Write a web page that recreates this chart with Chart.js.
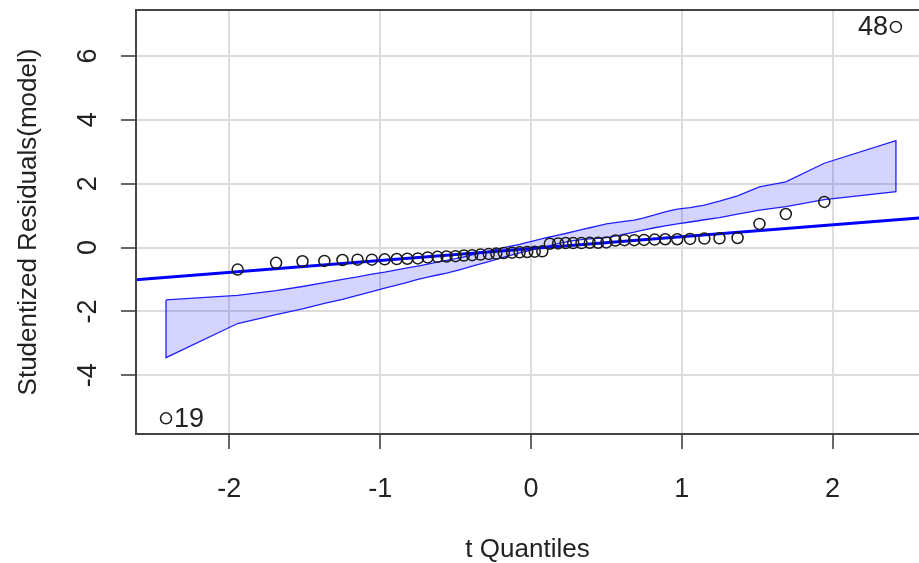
<!DOCTYPE html>
<html>
<head>
<meta charset="utf-8">
<title>qqPlot</title>
<script src="https://cdn.jsdelivr.net/npm/chart.js@4.4.1/dist/chart.umd.min.js"></script>
<style>
    html, body { margin: 0; padding: 0; background: #fff; overflow: hidden; }
    #wrap { width: 926px; height: 563px; }
</style>
</head>
<body>
<div id="wrap"><canvas id="qq" width="926" height="563"></canvas></div>
<script>
// t 분위수 (x축)
const tQuantiles = [-2.42, -1.945, -1.69, -1.515, -1.37, -1.25, -1.15, -1.055, -0.97, -0.89,
    -0.82, -0.75, -0.685, -0.62, -0.56, -0.50, -0.445, -0.39, -0.335, -0.28,
    -0.23, -0.18, -0.125, -0.075, -0.025, 0.025, 0.075, 0.125, 0.18, 0.23,
    0.28, 0.335, 0.39, 0.445, 0.50, 0.56, 0.62, 0.685, 0.75, 0.82,
    0.89, 0.97, 1.055, 1.15, 1.25, 1.37, 1.515, 1.69, 1.945, 2.42];

// 스튜던트화 잔차 (정렬됨)
const residuals = [-5.35, -0.69, -0.48, -0.43, -0.42, -0.39, -0.38, -0.38, -0.37, -0.36,
    -0.35, -0.34, -0.31, -0.29, -0.28, -0.27, -0.25, -0.24, -0.22, -0.20,
    -0.19, -0.17, -0.16, -0.15, -0.14, -0.13, -0.12, 0.12, 0.13, 0.14,
    0.14, 0.14, 0.15, 0.15, 0.16, 0.22, 0.23, 0.23, 0.24, 0.25,
    0.26, 0.26, 0.27, 0.28, 0.29, 0.30, 0.74, 1.05, 1.43, 6.91];

// 신뢰 구간 위/아래
const envUpper = [-1.64, -1.50, -1.35, -1.22, -1.10, -1.00, -0.92, -0.83, -0.77, -0.70,
    -0.64, -0.58, -0.52, -0.46, -0.40, -0.35, -0.29, -0.23, -0.18, -0.12,
    -0.06, 0.00, 0.05, 0.10, 0.16, 0.22, 0.28, 0.33, 0.39, 0.44,
    0.50, 0.56, 0.62, 0.68, 0.74, 0.78, 0.82, 0.86, 0.93, 1.02,
    1.12, 1.20, 1.25, 1.33, 1.45, 1.62, 1.90, 2.06, 2.64, 3.35];
const envLower = [-3.45, -2.38, -2.10, -1.92, -1.75, -1.62, -1.50, -1.38, -1.27, -1.18,
    -1.09, -1.00, -0.93, -0.86, -0.80, -0.73, -0.66, -0.58, -0.51, -0.44,
    -0.37, -0.30, -0.23, -0.17, -0.11, -0.05, 0.01, 0.06, 0.12, 0.17,
    0.22, 0.25, 0.27, 0.29, 0.31, 0.36, 0.42, 0.48, 0.55, 0.62,
    0.68, 0.74, 0.80, 0.87, 0.94, 1.05, 1.17, 1.28, 1.50, 1.75];

// 기준선 양 끝
const refX = [-2.62, 2.62];
const refY = [-1.01, 0.94];

// 눈금
const xTicks = [-2, -1, 0, 1, 2];
const yTicks = [-4, -2, 0, 2, 4, 6];

// 이상치 번호
const outlierIdx = [0, 49];
const outlierText = ['19', '48'];

const FONT = "'Liberation Sans', Arial, sans-serif";

// 점 데이터
const pointData = tQuantiles.map((t, i) => ({x: t, y: residuals[i]}));
// 위 경계 → 아래 경계(역순) → 시작점으로 닫힌 다각형
const bandData = tQuantiles.map((t, i) => ({x: t, y: envUpper[i]}))
    .concat(tQuantiles.map((t, i) => ({x: t, y: envLower[i]})).reverse());
bandData.push({x: tQuantiles[0], y: envUpper[0]});
const refData = refX.map((x, i) => ({x: x, y: refY[i]}));

// 테두리 (오른쪽 변은 화면 밖)
const frameBox = {
    id: 'frameBox',
    afterDraw(chart) {
        const a = chart.chartArea;
        const ctx = chart.ctx;
        ctx.save();
        ctx.strokeStyle = '#444';
        ctx.lineWidth = 2;
        ctx.beginPath();
        ctx.moveTo(a.right + 2, a.top);
        ctx.lineTo(a.left, a.top);
        ctx.lineTo(a.left, a.bottom);
        ctx.lineTo(a.right + 2, a.bottom);
        ctx.stroke();
        ctx.restore();
    }
};

// 이상치 번호 표시
const outlierLabels = {
    id: 'outlierLabels',
    afterDatasetsDraw(chart) {
        const ctx = chart.ctx;
        const xs = chart.scales.x, ys = chart.scales.y;
        ctx.save();
        ctx.font = '27px ' + FONT;
        ctx.fillStyle = '#222';
        ctx.textBaseline = 'middle';
        outlierIdx.forEach(function (idx, k) {
            const px = xs.getPixelForValue(tQuantiles[idx]);
            const py = ys.getPixelForValue(residuals[idx]);
            if (px < (xs.left + xs.right) / 2) {
                ctx.textAlign = 'left';
                ctx.fillText(outlierText[k], px + 8, py + 1);
            } else {
                ctx.textAlign = 'right';
                ctx.fillText(outlierText[k], px - 8, py + 1);
            }
        });
        ctx.restore();
    }
};

// 축 여백 고정 (회전된 눈금 라벨 때문에 생기는 패딩 제거)
function noPad(scale) {
    scale.paddingTop = 0;
    scale.paddingBottom = 0;
    scale.paddingLeft = 0;
    scale.paddingRight = 0;
}

new Chart(document.getElementById('qq'), {
    type: 'line',
    data: {
        datasets: [
            {
                label: 'residuals',
                data: pointData,
                showLine: false,
                pointStyle: 'circle',
                pointRadius: 5.5,
                pointBorderWidth: 1.5,
                pointBorderColor: '#1a1a1a',
                pointBackgroundColor: 'rgba(0,0,0,0)',
                order: 0
            },
            {
                label: 'ref',
                data: refData,
                borderColor: '#0000ff',
                borderWidth: 3,
                pointRadius: 0,
                fill: false,
                order: 1
            },
            {
                label: 'envelope',
                data: bandData,
                borderColor: '#1f1fff',
                borderWidth: 1.3,
                backgroundColor: 'rgba(0,0,255,0.17)',
                pointRadius: 0,
                fill: 'shape',
                tension: 0,
                order: 2
            }
        ]
    },
    options: {
        responsive: false,
        animation: false,
        devicePixelRatio: 1,
        layout: {padding: {top: 10, right: 0, left: 0, bottom: 0}},
        plugins: {
            legend: {display: false},
            tooltip: {enabled: false}
        },
        scales: {
            x: {
                type: 'linear',
                min: -2.619,
                max: 2.573,
                afterFit: function (scale) {
                    scale.height = 129;
                    noPad(scale);
                },
                afterBuildTicks: function (scale) {
                    scale.ticks = xTicks.map(v => ({value: v}));
                },
                border: {display: false},
                grid: {
                    color: '#dcdcdc',
                    lineWidth: 2,
                    tickLength: 15,
                    tickColor: '#333',
                    tickWidth: 1.5
                },
                ticks: {
                    color: '#222',
                    font: {family: FONT, size: 27},
                    padding: 24,
                    maxRotation: 0
                },
                title: {
                    display: true,
                    text: 't Quantiles',
                    color: '#222',
                    font: {family: FONT, size: 26, lineHeight: 1.05},
                    padding: {top: 0, bottom: 0}
                }
            },
            y: {
                type: 'linear',
                min: -5.84,
                max: 7.44,
                afterFit: function (scale) {
                    scale.width = 136;
                    noPad(scale);
                },
                afterBuildTicks: function (scale) {
                    scale.ticks = yTicks.map(v => ({value: v}));
                },
                border: {display: false},
                grid: {
                    color: '#dcdcdc',
                    lineWidth: 2,
                    tickLength: 15,
                    tickColor: '#333',
                    tickWidth: 1.5
                },
                ticks: {
                    color: '#222',
                    font: {family: FONT, size: 27},
                    padding: 20,
                    minRotation: 90,
                    maxRotation: 90,
                    crossAlign: 'center'
                },
                title: {
                    display: true,
                    text: 'Studentized Residuals(model)',
                    color: '#222',
                    font: {family: FONT, size: 26},
                    padding: {top: 13, bottom: 0}
                }
            }
        }
    },
    plugins: [frameBox, outlierLabels]
});
</script>
</body>
</html>
